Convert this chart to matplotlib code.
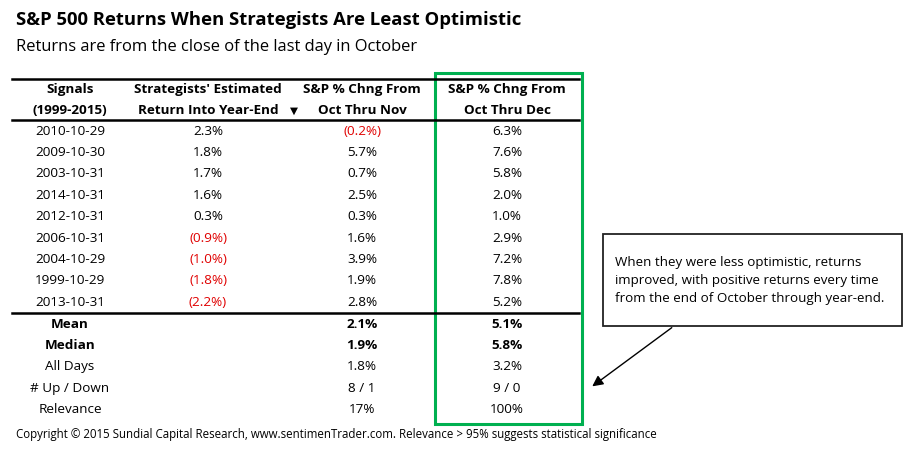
import matplotlib
matplotlib.use("Agg")
import matplotlib.pyplot as plt
from matplotlib.patches import Rectangle

plt.rcParams['font.family'] = ['Open Sans', 'DejaVu Sans']

# table data
signals = ['2010-10-29', '2009-10-30', '2003-10-31', '2014-10-31', '2012-10-31',
           '2006-10-31', '2004-10-29', '1999-10-29', '2013-10-31']
est_return = [2.3, 1.8, 1.7, 1.6, 0.3, -0.9, -1.0, -1.8, -2.2]
oct_nov = [-0.2, 5.7, 0.7, 2.5, 0.3, 1.6, 3.9, 1.9, 2.8]
oct_dec = [6.3, 7.6, 5.8, 2.0, 1.0, 2.9, 7.2, 7.8, 5.2]

summary_labels = ['Mean', 'Median', 'All Days', '# Up / Down', 'Relevance']
summary_nov = ['2.1%', '1.9%', '1.8%', '8 / 1', '17%']
summary_dec = ['5.1%', '5.8%', '3.2%', '9 / 0', '100%']
summary_bold = [True, True, False, False, False]

headers = [('Signals', '(1999-2015)'),
           ("Strategists' Estimated", 'Return Into Year-End'),
           ('S&P % Chng From', 'Oct Thru Nov'),
           ('S&P % Chng From', 'Oct Thru Dec')]

note_lines = ["When they were less optimistic, returns",
              "improved, with positive returns every time",
              "from the end of October through year-end."]


def fmt(v):
    if v < 0:
        return '(%.1f%%)' % abs(v), '#E00000'
    return '%.1f%%' % v, 'black'


fig = plt.figure(figsize=(9.15, 4.61), dpi=100)
ax = fig.add_axes([0, 0, 1, 1])
ax.set_xlim(0, 915)
ax.set_ylim(461, 0)
ax.axis('off')

ax.text(16, 20, 'S&P 500 Returns When Strategists Are Least Optimistic',
        fontsize=13.3, fontweight='bold', va='center', ha='left')
ax.text(16, 47, 'Returns are from the close of the last day in October',
        fontsize=11.9, va='center', ha='left')

col_x = [70, 208, 362, 507]
fs = 9.7

# header
for x, (h1, h2) in zip(col_x, headers):
    ax.text(x, 89, h1, fontsize=fs, fontweight='bold', ha='center', va='center')
    ax.text(x, 110, h2, fontsize=fs, fontweight='bold', ha='center', va='center')
ax.text(294, 111, '\u25bc', fontsize=7.5, ha='center', va='center',
        family=['DejaVu Sans'])

ax.plot([12, 579], [79, 79], color='black', lw=1.8)
ax.plot([12, 579], [120.5, 120.5], color='black', lw=1.8)
ax.plot([12, 579], [312.5, 312.5], color='black', lw=1.8)

row_h = 21.4
for i, s in enumerate(signals):
    y = 131 + i * row_h
    ax.text(col_x[0], y, s, fontsize=fs, ha='center', va='center')
    for x, v in zip(col_x[1:], [est_return[i], oct_nov[i], oct_dec[i]]):
        t, c = fmt(v)
        ax.text(x, y, t, fontsize=fs, ha='center', va='center', color=c)

for i, lab in enumerate(summary_labels):
    y = 324 + i * row_h
    w = 'bold' if summary_bold[i] else 'normal'
    ax.text(col_x[0], y, lab, fontsize=fs, ha='center', va='center', fontweight=w)
    ax.text(col_x[2], y, summary_nov[i], fontsize=fs, ha='center', va='center', fontweight=w)
    ax.text(col_x[3], y, summary_dec[i], fontsize=fs, ha='center', va='center', fontweight=w)

# green highlight box
ax.add_patch(Rectangle((435, 73), 147, 351, fill=False, edgecolor='#00B050', lw=2.2))

# note box with arrow
ax.add_patch(Rectangle((603, 234), 299, 92, fill=False, edgecolor='#222222', lw=1.3))
for i, line in enumerate(note_lines):
    ax.text(615, 262 + i * 18, line, fontsize=9.6, ha='left', va='center')
ax.annotate('', xy=(590, 388), xytext=(674, 326),
            arrowprops=dict(arrowstyle='-|>', color='black', lw=1, mutation_scale=16))

ax.text(16, 434, 'Copyright \u00a9 2015 Sundial Capital Research, www.sentimenTrader.com. '
        'Relevance > 95% suggests statistical significance',
        fontsize=8.3, ha='left', va='center')

fig.savefig('out.png', dpi=100)
